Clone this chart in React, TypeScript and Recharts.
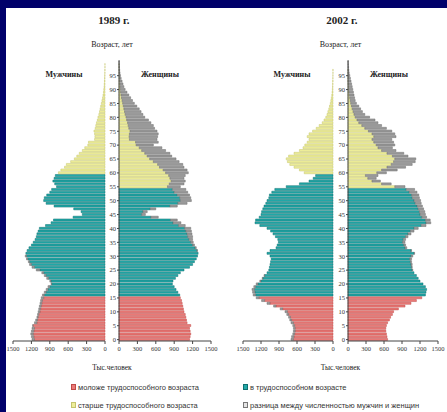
import React from 'react';
import { BarChart, Bar, XAxis, YAxis, Cell } from 'recharts';

// ages 0..100, one bar per year of age
const AGES = Array.from({ length: 101 }, (_, i) => i);
const AGE_TICKS = [0, 5, 10, 15, 20, 25, 30, 35, 40, 45, 50, 55, 60, 65, 70, 75, 80, 85, 90, 95];
const X_TICKS = [0, 300, 600, 900, 1200, 1500];

// thousands of people, index = age
const MALE_1989 = [
  1190, 1200, 1210, 1200, 1190, 1180, 1150, 1130, 1110, 1100,
  1090, 1080, 1070, 1060, 1050, 1040, 1020, 990, 960, 930,
  880, 900, 950, 990, 1030, 1120, 1190, 1230, 1250, 1280,
  1300, 1290, 1270, 1240, 1200, 1170, 1140, 1120, 1110, 1090,
  1070, 970, 880, 840, 520, 370, 390, 510, 830, 960,
  1000, 990, 950, 900, 870, 790, 820, 850, 830, 810,
  760, 720, 660, 630, 560, 500, 460, 420, 370, 330,
  280, 270, 170, 165, 170, 180, 160, 150, 140, 125,
  115, 100, 90, 80, 70, 60, 50, 40, 32, 25,
  20, 15, 12, 9, 7, 5, 3, 2, 1, 1, 0,
];
const FEMALE_1989 = [
  1150, 1160, 1170, 1160, 1150, 1170, 1110, 1100, 1090, 1080,
  1060, 1050, 1040, 1030, 1020, 1000, 990, 960, 930, 900,
  870, 880, 920, 960, 1000, 1060, 1150, 1200, 1230, 1260,
  1280, 1290, 1280, 1260, 1230, 1210, 1200, 1200, 1190, 1180,
  1170, 1080, 1010, 950, 640, 430, 460, 600, 950, 1110,
  1180, 1170, 1150, 1120, 1090, 1000, 1060, 1080, 1060, 1080,
  1130, 1110, 1060, 1040, 980, 930, 860, 830, 760, 700,
  560, 640, 620, 630, 640, 620, 580, 560, 520, 480,
  420, 390, 360, 330, 290, 250, 220, 190, 160, 130,
  100, 80, 65, 50, 35, 25, 17, 11, 7, 5, 3,
];
const MALE_2002 = [
  700, 690, 670, 660, 660, 670, 700, 720, 740, 770,
  800, 880, 990, 1100, 1190, 1280, 1330, 1340, 1350, 1320,
  1280, 1220, 1180, 1150, 1100, 1070, 1060, 1050, 1040, 1030,
  1050, 1100, 1050, 950, 930, 910, 920, 960, 1000, 1040,
  1100, 1220, 1300, 1290, 1230, 1200, 1190, 1170, 1150, 1120,
  1100, 1070, 1060, 1020, 970, 780, 560, 400, 330, 290,
  480, 560, 650, 720, 760, 780, 740, 650, 560, 500,
  470, 430, 400, 430, 400, 340, 280, 230, 180, 150,
  120, 100, 85, 70, 58, 45, 36, 28, 20, 15,
  11, 8, 6, 4, 3, 2, 1, 1, 0, 0, 0,
];
const FEMALE_2002 = [
  660, 650, 640, 630, 630, 640, 660, 690, 710, 740,
  760, 840, 950, 1050, 1140, 1230, 1290, 1300, 1310, 1290,
  1250, 1200, 1170, 1140, 1100, 1080, 1070, 1070, 1060, 1060,
  1080, 1110, 1060, 980, 960, 950, 960, 1000, 1050, 1100,
  1170, 1300, 1380, 1370, 1310, 1290, 1280, 1260, 1240, 1220,
  1210, 1190, 1180, 1150, 1110, 950, 720, 540, 470, 500,
  640, 820, 960, 1070, 1120, 1130, 1000, 930, 800, 740,
  780, 760, 730, 800, 780, 730, 640, 560, 500, 450,
  360, 280, 240, 210, 180, 140, 120, 110, 100, 90,
  80, 70, 60, 50, 40, 30, 20, 14, 10, 6, 4,
];

const RED = { fill: '#ea7b78', stroke: '#c04a48' };
const TEAL = { fill: '#22a9a9', stroke: '#0f7070' };
const YELLOW = { fill: '#eeee99', stroke: '#c4c46e' };
const GRAY = { fill: '#9a9a9a', stroke: '#6e6e6e' };

const zone = (age: number, male: boolean) =>
  age < 16 ? RED : age < (male ? 60 : 55) ? TEAL : YELLOW;

function buildRows(male: number[], female: number[]) {
  return AGES.map((age, i) => {
    const m = male[i];
    const f = female[i];
    const base = Math.min(m, f);
    return { age, mBase: base, mDiff: Math.max(m - f, 0), fBase: base, fDiff: Math.max(f - m, 0) };
  });
}

const tickFont = { fontSize: 6.5, fill: '#333', fontFamily: '"Liberation Serif", serif' };

function Half({ rows, male, left, plotWidth, gap }: any) {
  // male half keeps 4px on the right so its "0" label is not clipped
  const width = male ? 8 + plotWidth + 4 : gap + plotWidth + 8;
  return (
    <div style={{ position: 'absolute', left, top: 58 }}>
      <BarChart
        width={width}
        height={303}
        data={rows}
        layout="vertical"
        margin={{ top: 2.4, right: male ? 4 : 8, left: male ? 8 : 0, bottom: 0 }}
        barCategoryGap="8%"
        style={{ overflow: 'visible' }}
      >
        <XAxis
          type="number"
          domain={[0, 1500]}
          ticks={X_TICKS}
          interval={0}
          reversed={male}
          height={20}
          tick={tickFont}
          tickSize={3}
          tickMargin={2}
          stroke="#444"
        />
        <YAxis
          type="category"
          dataKey="age"
          reversed
          orientation={male ? 'right' : 'left'}
          width={male ? 0 : gap}
          ticks={AGE_TICKS}
          interval={0}
          tick={male ? false : tickFont}
          tickLine={!male}
          tickSize={2}
          tickMargin={1}
          stroke="#444"
        />
        <Bar dataKey={male ? 'mBase' : 'fBase'} stackId="a" strokeWidth={0.5} isAnimationActive={false}>
          {rows.map((r: any) => {
            const c = zone(r.age, male);
            return <Cell key={r.age} fill={c.fill} stroke={c.stroke} />;
          })}
        </Bar>
        <Bar
          dataKey={male ? 'mDiff' : 'fDiff'}
          stackId="a"
          fill={GRAY.fill}
          stroke={GRAY.stroke}
          strokeWidth={0.5}
          isAnimationActive={false}
        />
      </BarChart>
    </div>
  );
}

function Label({ x, y, children, style }: any) {
  return (
    <div
      style={{
        position: 'absolute',
        left: x,
        top: y,
        transform: 'translate(-50%, -50%)',
        whiteSpace: 'nowrap',
        lineHeight: 1,
        fontFamily: '"Liberation Serif", serif',
        color: '#222',
        ...style,
      }}
    >
      {children}
    </div>
  );
}

function Pyramid({ title, male, female, maleLeft, plotWidth, gap, cx }: any) {
  const rows = buildRows(male, female);
  const zeroM = maleLeft + 8 + plotWidth;
  return (
    <>
      <Label x={cx} y={20} style={{ fontSize: 11, fontWeight: 'bold' }}>{title}</Label>
      <Label x={zeroM + gap / 2} y={45} style={{ fontSize: 8 }}>Возраст, лет</Label>
      <Label x={zeroM - 41} y={75} style={{ fontSize: 8, fontWeight: 'bold' }}>Мужчины</Label>
      <Label x={zeroM + gap + 41} y={75} style={{ fontSize: 8, fontWeight: 'bold' }}>Женщины</Label>
      <Half rows={rows} male={false} left={zeroM} plotWidth={plotWidth} gap={gap} />
      <Half rows={rows} male left={maleLeft} plotWidth={plotWidth} gap={gap} />
      <Label x={zeroM + gap / 2} y={368} style={{ fontSize: 7.5 }}>Тыс.человек</Label>
    </>
  );
}

const LEGEND = [
  { text: 'моложе трудоспособного возраста', c: RED, x: 71, y: 387 },
  { text: 'в трудоспособном возрасте', c: TEAL, x: 243, y: 387 },
  { text: 'старше трудоспособного возраста', c: YELLOW, x: 71, y: 405 },
  { text: 'разница между численностью мужчин и женщин', c: { fill: '#e4e4e4', stroke: '#777' }, x: 243, y: 405 },
];

export default function App() {
  return (
    <div style={{ position: 'absolute', left: 0, top: 0, width: 447, height: 412, background: '#00006a', overflow: 'hidden' }}>
      <div style={{ position: 'absolute', left: 6, top: 8, right: 0, bottom: 0, background: '#fff' }} />
      <Pyramid title="1989 г." male={MALE_1989} female={FEMALE_1989} maleLeft={5} plotWidth={92} gap={14} cx={114} />
      <Pyramid title="2002 г." male={MALE_2002} female={FEMALE_2002} maleLeft={235} plotWidth={90} gap={15} cx={342} />
      {LEGEND.map((l) => (
        <div
          key={l.text}
          style={{
            position: 'absolute',
            left: l.x,
            top: l.y - 5,
            height: 10,
            display: 'flex',
            alignItems: 'center',
            whiteSpace: 'nowrap',
            fontFamily: '"Liberation Sans", Arial, sans-serif',
            fontSize: 7.5,
            color: '#333',
          }}
        >
          <span style={{ display: 'inline-block', width: 3, height: 4, background: l.c.fill, border: `1px solid ${l.c.stroke}`, marginRight: 2 }} />
          {l.text}
        </div>
      ))}
    </div>
  );
}
